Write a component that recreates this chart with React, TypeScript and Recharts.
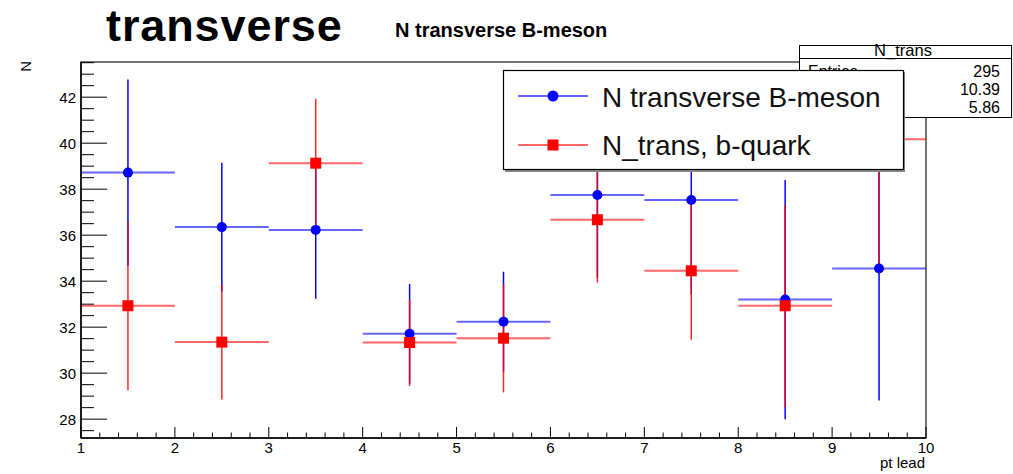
import { ComposedChart, Scatter, ErrorBar, XAxis, YAxis, ReferenceArea } from 'recharts';

const binCenters = [1.5, 2.5, 3.5, 4.5, 5.5, 6.5, 7.5, 8.5, 9.5];
const binHalfWidth = [0.5, 0.5, 0.5, 0.5, 0.5, 0.5, 0.5, 0.5, 0.5];

const mesonValues = [38.72, 36.35, 36.23, 31.71, 32.24, 37.75, 37.53, 33.2, 34.55];
const mesonErrors = [4.05, 2.8, 3.0, 2.17, 2.17, 3.6, 4.1, 5.2, 5.74];

const quarkValues = [32.93, 31.35, 39.13, 31.33, 31.52, 36.67, 34.45, 32.93, 40.17];
const quarkErrors = [3.67, 2.5, 2.8, 1.89, 2.36, 2.73, 3.0, 4.4, 5.47];

const xMajorTicks = [1, 2, 3, 4, 5, 6, 7, 8, 9, 10];
const yMajorTicks = [28, 30, 32, 34, 36, 38, 40, 42];

const statsTitle = 'N_trans';
const statsLabels = ['Entries'];
const statsValues = ['295', '10.39', '5.86'];

const Y_MIN = 27.18;
const Y_MAX = 43.53;
const FONT = '"Liberation Sans", Arial, Helvetica, sans-serif';

// minor tick positions (0.2 on x, 0.5 on y)
const xTicks: number[] = [];
for (let v = xMajorTicks[0]; v <= 10.001; v += 0.2) xTicks.push(Math.round(v * 10) / 10);
const yTicks: number[] = [];
for (let v = 27.5; v <= 43.5001; v += 0.5) yTicks.push(Math.round(v * 10) / 10);

const toPoints = (vals: number[], errs: number[]) =>
  binCenters.map((x, i) => ({ x, y: vals[i], ex: binHalfWidth[i], ey: errs[i] }));

const mesonData = toPoints(mesonValues, mesonErrors);
const quarkData = toPoints(quarkValues, quarkErrors);

const renderXTick = (props: any) => {
  const { x, y, payload } = props;
  const v = payload.value;
  const major = Number.isInteger(v);
  return (
    <g>
      <line x1={x} x2={x} y1={y} y2={y - (major ? 11 : 5.5)} stroke="#000" strokeWidth={1} />
      {major && (
        <text x={x} y={y + 14.5} textAnchor="middle" fontSize={15} fontFamily={FONT} fill="#000">
          {v}
        </text>
      )}
    </g>
  );
};

const renderYTick = (props: any) => {
  const { x, y, payload } = props;
  const v = payload.value;
  const major = yMajorTicks.includes(v);
  return (
    <g>
      <line x1={x} x2={x + (major ? 26 : 13)} y1={y} y2={y} stroke="#000" strokeWidth={1} />
      {major && (
        <text x={x - 5} y={y} dy="0.36em" textAnchor="end" fontSize={15} fontFamily={FONT} fill="#000">
          {v}
        </text>
      )}
    </g>
  );
};

const Circle = (props: any) => <circle cx={props.cx} cy={props.cy} r={5} fill="#0000ff" />;
const Square = (props: any) => (
  <rect x={props.cx - 5.5} y={props.cy - 5.5} width={11} height={11} fill="#ff0000" />
);

function Overlay() {
  return (
    <svg width={1013} height={474} style={{ position: 'absolute', left: 0, top: 0, pointerEvents: 'none' }}>
      <text x={106} y={41} fontSize={45} fontWeight="bold" letterSpacing={0.9} fontFamily={FONT} fill="#000">
        transverse
      </text>
      <text x={395} y={37} fontSize={20} fontWeight="bold" fontFamily={FONT} fill="#000">
        N transverse B-meson
      </text>
      <text
        transform="translate(31,61) rotate(-90)"
        textAnchor="end"
        fontSize={15}
        fontFamily={FONT}
        fill="#000"
      >
        N
      </text>
      <text x={925} y={468} textAnchor="end" fontSize={15} fontFamily={FONT} fill="#000">
        pt lead
      </text>

      {/* stats box */}
      <rect x={799.5} y={45.5} width={212} height={72} fill="#fff" stroke="#000" strokeWidth={1} />
      <line x1={799.5} x2={1011.5} y1={58.5} y2={58.5} stroke="#000" strokeWidth={1} />
      <text x={903} y={56} textAnchor="middle" fontSize={16.5} fontFamily={FONT} fill="#000">
        {statsTitle}
      </text>
      {statsLabels.map((l, i) => (
        <text key={l} x={808} y={77 + i * 18} fontSize={16} fontFamily={FONT} fill="#000">
          {l}
        </text>
      ))}
      {statsValues.map((v, i) => (
        <text key={v} x={1000} y={77 + i * 18} textAnchor="end" fontSize={16} fontFamily={FONT} fill="#000">
          {v}
        </text>
      ))}

      {/* legend */}
      <rect x={505} y={72} width={400} height={100} fill="#888" />
      <rect x={503.5} y={70.5} width={400} height={99} fill="#fff" stroke="#000" strokeWidth={1.2} />
      <line x1={518} x2={588} y1={96} y2={96} stroke="#0000ff" strokeOpacity={0.6} strokeWidth={2} />
      <circle cx={553} cy={96} r={5.5} fill="#0000ff" />
      <text x={602} y={106.5} fontSize={28} fontFamily={FONT} fill="#111">
        N transverse B-meson
      </text>
      <line x1={518} x2={588} y1={145} y2={145} stroke="#ff0000" strokeOpacity={0.6} strokeWidth={2} />
      <rect x={547.5} y={139.5} width={11} height={11} fill="#ff0000" />
      <text x={602} y={155} fontSize={28} fontFamily={FONT} fill="#111">
        N_trans, b-quark
      </text>
    </svg>
  );
}

export default function App() {
  return (
    <div style={{ position: 'absolute', left: 0, top: 0, width: 1013, height: 474, background: '#fff', overflow: 'hidden' }}>
      <style>{`.recharts-scatter, .recharts-errorBars { clip-path: url(#plotFrameClip); }`}</style>
      <svg width={0} height={0} style={{ position: 'absolute' }}>
        <defs>
          <clipPath id="plotFrameClip" clipPathUnits="userSpaceOnUse">
            <rect x={81} y={62} width={845} height={376} />
          </clipPath>
        </defs>
      </svg>
      <ComposedChart width={1013} height={474} margin={{ top: 62, right: 87, bottom: 0, left: 0 }}>
        <XAxis
          type="number"
          dataKey="x"
          domain={[1, 10]}
          ticks={xTicks}
          interval={0}
          allowDataOverflow
          height={36}
          tickSize={0}
          tickMargin={0}
          tickLine={false}
          axisLine={{ stroke: '#000', strokeWidth: 1.5 }}
          tick={renderXTick}
        />
        <YAxis
          type="number"
          dataKey="y"
          domain={[Y_MIN, Y_MAX]}
          ticks={yTicks}
          interval={0}
          allowDataOverflow
          width={81}
          tickSize={0}
          tickMargin={0}
          tickLine={false}
          axisLine={{ stroke: '#000', strokeWidth: 1.5 }}
          tick={renderYTick}
        />
        <ReferenceArea x1={1} x2={10} y1={Y_MIN} y2={Y_MAX} fill="none" stroke="#444" strokeWidth={1.5} />
        <Scatter data={mesonData} shape={Circle} isAnimationActive={false}>
          <ErrorBar dataKey="ex" direction="x" width={0} stroke="#0000ff" strokeOpacity={0.6} strokeWidth={2} isAnimationActive={false} />
          <ErrorBar dataKey="ey" direction="y" width={0} stroke="#0000ff" strokeWidth={1.5} isAnimationActive={false} />
        </Scatter>
        <Scatter data={quarkData} shape={Square} isAnimationActive={false}>
          <ErrorBar dataKey="ex" direction="x" width={0} stroke="#ff0000" strokeOpacity={0.6} strokeWidth={2} isAnimationActive={false} />
          <ErrorBar dataKey="ey" direction="y" width={0} stroke="#ff0000" strokeOpacity={0.85} strokeWidth={1.5} isAnimationActive={false} />
        </Scatter>
      </ComposedChart>
      <Overlay />
    </div>
  );
}
